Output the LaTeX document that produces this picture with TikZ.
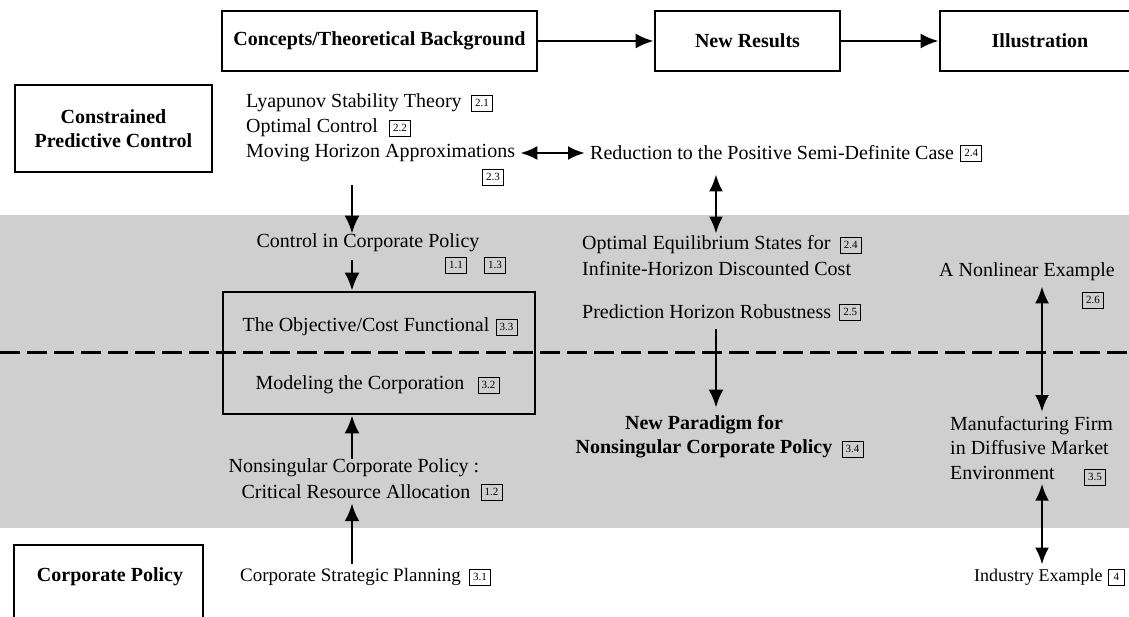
\documentclass[tikz,border=0pt]{standalone}
\usepackage{fontspec}
\setmainfont{Liberation Serif}
\usetikzlibrary{arrows.meta,positioning}
\begin{document}
\begin{tikzpicture}[x=1pt,y=-1pt,
  frame/.style={draw,line width=2.6pt},
  head/.style={font=\fontsize{20}{24}\selectfont\bfseries},
  txt/.style={font=\fontsize{20}{24.5}\selectfont,inner sep=0pt},
  small/.style={font=\fontsize{19}{22}\selectfont,inner sep=0pt},
  ref/.style={draw,line width=0.9pt,font=\fontsize{11}{11}\selectfont,inner sep=0pt,
              minimum width=21pt,minimum height=16pt},
  arr/.style={line width=2.8pt,-{Latex[length=18pt,width=15pt]}},
  darr/.style={line width=2.8pt,{Latex[length=17pt,width=14pt]}-{Latex[length=17pt,width=14pt]}},
]
\useasboundingbox (0,0) rectangle (1129,616);
\clip (0,0) rectangle (1129,616);

% shaded band and the dashed separator
\fill[black!19] (0,215) rectangle (1129,528);
\draw[line width=3pt,dash pattern=on 20pt off 7pt] (0,352) -- (1129,352);

% column guides for the vertical arrows
\coordinate (colA) at (352,0);
\coordinate (colB) at (716,0);
\coordinate (colC) at (1042,0);

% header row
\node[frame,head,minimum width=315pt,minimum height=60pt] (concepts) at (379.5,41) {Concepts/Theoretical Background};
\node[frame,head,minimum width=185pt,minimum height=60pt] (newres) at (747.5,41) {New Results};
\node[frame,head,minimum width=200pt,minimum height=60pt] (illus) at (1040,41) {Illustration};
\draw[arr] (concepts) -- (newres);
\draw[arr] (newres) -- (illus);

% row headers
\node[frame,head,align=center,minimum width=197pt,minimum height=87pt] (cpc) at (113.5,128.5) {Constrained\\Predictive Control};
\node[head,inner sep=0pt] (cp) at (110,577) {Corporate Policy};
\draw[frame] (14,545) rectangle (203,640);

% concepts column
\node[txt,anchor=west] (lyap) at (246,103) {Lyapunov Stability Theory};
\node[ref,right=9pt of lyap] {2.1};
\node[txt,anchor=west] (optc) at (246,128) {Optimal Control};
\node[ref,right=11pt of optc] {2.2};
\node[txt,anchor=west] (mha) at (246,153) {Moving Horizon Approximations};
\node[ref] (r23) at (493,177) {2.3};

\node[txt] (ccp) at (368,243) {Control in Corporate Policy};
\node[ref] (r11) at (456,265) {1.1};
\node[ref] (r13) at (495,265) {1.3};

\node[frame,minimum width=312pt,minimum height=122pt] (core) at (379,353) {};
\node[txt] (obj) at (366,327) {The Objective/Cost Functional};
\node[ref,right=6pt of obj] {3.3};
\node[txt] (mod) at (360,385) {Modeling the Corporation};
\node[ref,right=13pt of mod] {3.2};

\node[txt] (nsc) at (354,468) {Nonsingular Corporate Policy :};
\node[txt] (cra) at (356,492) {Critical Resource Allocation};
\node[ref,right=10pt of cra] {1.2};
\node[small,anchor=west] (csp) at (240,577) {Corporate Strategic Planning};
\node[ref,right=8pt of csp] {3.1};

\draw[arr] (r23.south -| colA) -- (ccp.north -| colA);
\draw[arr,shorten <=8pt] (ccp.south -| colA) -- (core.north -| colA);
\draw[arr] (nsc.north -| colA) -- (core.south -| colA);
\draw[arr,shorten <=4pt,shorten >=4pt] (csp.north -| colA) -- (cra.south -| colA);

% new results column
\node[txt,anchor=west] (red) at (590,153) {Reduction to the Positive Semi-Definite Case};
\node[ref,right=6pt of red] {2.4};
\draw[darr,shorten <=5pt,shorten >=5pt] (mha) -- (red);

\node[txt,anchor=west] (oes) at (582,245) {Optimal Equilibrium States for};
\node[ref,right=9pt of oes] {2.4};
\node[txt,anchor=west] (ihd) at (582,269) {Infinite-Horizon Discounted Cost};
\node[txt,anchor=west] (phr) at (582,312) {Prediction Horizon Robustness};
\node[ref,right=8pt of phr] {2.5};
\draw[darr,shorten <=14pt,shorten >=2pt] (red.south -| colB) -- (oes.north -| colB);

\node[head,inner sep=0pt] (np1) at (704,425) {New Paradigm for};
\node[head,inner sep=0pt] (np2) at (704,449) {Nonsingular Corporate Policy};
\node[ref,right=9pt of np2] {3.4};
\draw[arr,shorten <=10pt,shorten >=8pt] (phr.south -| colB) -- (np1.north -| colB);

% illustration column
\node[txt,anchor=west] (nle) at (939,272) {A Nonlinear Example};
\node[ref] (r26) at (1093,300) {2.6};
\node[txt,anchor=north west,align=left] (mf) at (950,416) {Manufacturing Firm\\in Diffusive Market\\Environment};
\node[ref] (r35) at (1095,477) {3.5};
\node[small,anchor=west,font=\fontsize{18}{21}\selectfont] (ind) at (974,577) {Industry Example};
\node[ref,minimum width=16pt,right=5pt of ind] {4};
\draw[darr,shorten <=5pt,shorten >=4pt] (nle.south -| colC) -- (mf.north -| colC);
\draw[darr,shorten <=4pt,shorten >=4pt] (mf.south -| colC) -- (ind.north -| colC);
\end{tikzpicture}
\end{document}
